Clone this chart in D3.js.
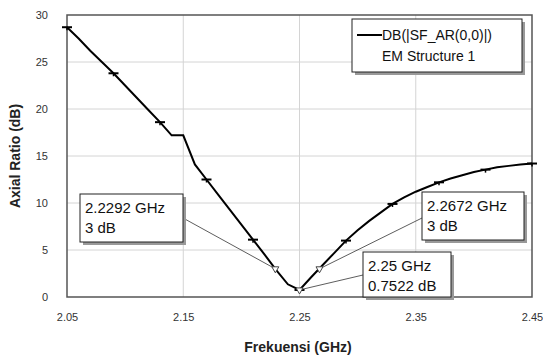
<!DOCTYPE html>
<html>
<head>
<meta charset="utf-8">
<script src="https://cdn.jsdelivr.net/npm/d3@7"></script>
<style>
  body { margin: 0; background: #fff; }
  text { font-family: "Liberation Sans", Arial, sans-serif; }
</style>
</head>
<body>
<svg id="chart" width="543" height="356"></svg>
<script>
// data
var freq = [2.05, 2.06, 2.07, 2.08, 2.09, 2.10, 2.11, 2.12, 2.13, 2.14,
            2.15, 2.16, 2.17, 2.18, 2.19, 2.20, 2.21, 2.22, 2.23, 2.24,
            2.25, 2.26, 2.27, 2.28, 2.29, 2.30, 2.31, 2.32, 2.33, 2.34,
            2.35, 2.36, 2.37, 2.38, 2.39, 2.40, 2.41, 2.42, 2.43, 2.44, 2.45];
var axialRatio = [28.7, 27.5, 26.2, 25.0, 23.8, 22.5, 21.2, 19.9, 18.6, 17.2,
                  17.2, 14.1, 12.5, 10.9, 9.3, 7.7, 6.1, 4.5, 2.85, 1.35,
                  0.75, 2.1, 3.4, 4.7, 6.0, 7.1, 8.1, 9.0, 9.9, 10.6,
                  11.2, 11.7, 12.2, 12.6, 12.95, 13.3, 13.55, 13.8, 13.95, 14.1, 14.2];
var xTicks = [2.05, 2.15, 2.25, 2.35, 2.45];
var yTicks = [0, 5, 10, 15, 20, 25, 30];
var legendLabels = ['DB(|SF_AR(0,0)|)', 'EM Structure 1'];
// marker readouts
var markerFreq = [2.2292, 2.2672, 2.25];
var markerVal = [3, 3, 0.7522];
var markerText = [['2.2292 GHz', '3 dB'], ['2.2672 GHz', '3 dB'], ['2.25 GHz', '0.7522 dB']];

(function(){
var svg = d3.select('#chart');
var pl = 67, pr = 532, pt = 15, pb = 297;

var x = d3.scaleLinear().domain([2.05, 2.45]).range([pl, pr]);
var y = d3.scaleLinear().domain([0, 30]).range([pb, pt]);

// grid
svg.append('g').selectAll('line').data(yTicks.slice(1, -1)).enter().append('line')
   .attr('x1', pl).attr('x2', pr)
   .attr('y1', function(d){ return y(d); }).attr('y2', function(d){ return y(d); })
   .attr('stroke', '#d4d4d4').attr('stroke-width', 1);
svg.append('g').selectAll('line').data(xTicks.slice(1, -1)).enter().append('line')
   .attr('y1', pt).attr('y2', pb)
   .attr('x1', function(d){ return x(d); }).attr('x2', function(d){ return x(d); })
   .attr('stroke', '#d4d4d4').attr('stroke-width', 1);

// axes (labels only)
var yAxis = svg.append('g').attr('transform', 'translate(' + (pl - 16) + ',0)')
   .call(d3.axisLeft(y).tickValues(yTicks).tickSize(0).tickFormat(d3.format('d')));
var xAxis = svg.append('g').attr('transform', 'translate(0,' + (pb + 13) + ')')
   .call(d3.axisBottom(x).tickValues(xTicks).tickSize(0).tickFormat(d3.format('.2f')));
[yAxis, xAxis].forEach(function(a){
   a.select('.domain').remove();
   a.selectAll('text').attr('font-size', 11).attr('fill', '#333')
      .attr('font-family', '"Liberation Sans", Arial, sans-serif');
});

// frame
svg.append('rect').attr('x', pl).attr('y', pt)
   .attr('width', pr - pl).attr('height', pb - pt)
   .attr('fill', 'none').attr('stroke', '#555').attr('stroke-width', 1.5);

// titles
svg.append('text').attr('x', 298).attr('y', 352).attr('text-anchor', 'middle')
   .attr('font-size', 14).attr('font-weight', 'bold').attr('fill', '#222')
   .text('Frekuensi (GHz)');
svg.append('text').attr('transform', 'translate(20,156) rotate(-90)').attr('text-anchor', 'middle')
   .attr('font-size', 14).attr('font-weight', 'bold').attr('fill', '#222')
   .text('Axial Ratio (dB)');

// curve
var pts = freq.map(function(f, i){ return [f, axialRatio[i]]; });
svg.append('path').datum(pts)
   .attr('d', d3.line().x(function(d){ return x(d[0]); }).y(function(d){ return y(d[1]); }))
   .attr('fill', 'none').attr('stroke', '#000').attr('stroke-width', 2);

// series markers every 4th point
var mk = svg.append('g');
pts.filter(function(d, i){ return i % 4 === 0; }).forEach(function(d){
   var px = x(d[0]), py = y(d[1]);
   mk.append('line').attr('x1', px - 5).attr('x2', px + 5).attr('y1', py).attr('y2', py)
      .attr('stroke', '#000').attr('stroke-width', 2);
   mk.append('line').attr('x1', px).attr('x2', px).attr('y1', py).attr('y2', py + 3)
      .attr('stroke', '#000').attr('stroke-width', 1.5);
});

// readout boxes
var boxes = [
   {x: 80, y: 194, w: 103, h: 48, ax: 183, ay: 218},
   {x: 422, y: 192, w: 102, h: 48, ax: 422, ay: 218},
   {x: 363, y: 252, w: 88, h: 45, ax: 363, ay: 275}
];
markerFreq.forEach(function(f, i){
   var b = boxes[i], px = x(f), py = y(markerVal[i]);
   svg.append('line').attr('x1', b.ax).attr('y1', b.ay).attr('x2', px).attr('y2', py)
      .attr('stroke', '#333').attr('stroke-width', 0.8);
   svg.append('path')
      .attr('d', 'M' + (px - 3.5) + ',' + (py - 2) + 'L' + (px + 3.5) + ',' + (py - 2) + 'L' + px + ',' + (py + 4) + 'Z')
      .attr('fill', '#fff').attr('stroke', '#444').attr('stroke-width', 1);
});
boxes.forEach(function(b, i){
   var g = svg.append('g').attr('transform', 'translate(' + b.x + ',' + b.y + ')');
   g.append('rect').attr('x', 3).attr('y', 3).attr('width', b.w).attr('height', b.h).attr('fill', '#999');
   g.append('rect').attr('width', b.w).attr('height', b.h)
      .attr('fill', '#fff').attr('stroke', '#222').attr('stroke-width', 1);
   markerText[i].forEach(function(t, j){
      g.append('text').attr('x', 5).attr('y', 19 + j * 20)
         .attr('font-size', 15).attr('fill', '#111').text(t);
   });
});

// legend
var lg = svg.append('g').attr('transform', 'translate(352,19)');
lg.append('rect').attr('x', 3).attr('y', 3).attr('width', 170).attr('height', 53).attr('fill', '#999');
lg.append('rect').attr('width', 170).attr('height', 53)
   .attr('fill', '#fff').attr('stroke', '#222').attr('stroke-width', 1);
lg.append('line').attr('x1', 5).attr('x2', 30).attr('y1', 16).attr('y2', 16)
   .attr('stroke', '#000').attr('stroke-width', 2);
legendLabels.forEach(function(t, j){
   lg.append('text').attr('x', 30).attr('y', 21 + j * 21)
      .attr('font-size', 14).attr('fill', '#111').text(t);
});
})();
</script>
</body>
</html>
